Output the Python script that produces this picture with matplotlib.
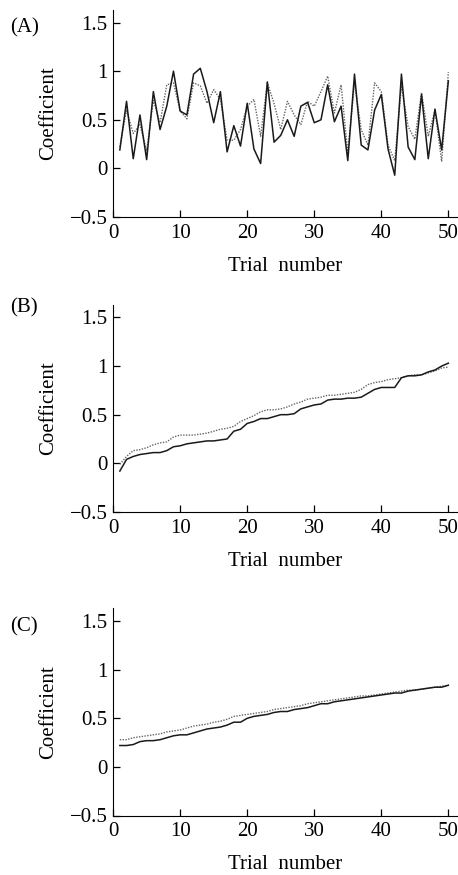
import numpy as np
import matplotlib
matplotlib.use('Agg')
import matplotlib.pyplot as plt

plt.rcParams['font.family'] = ['Liberation Serif', 'DejaVu Serif']
plt.rcParams['font.size'] = 15

trials = np.arange(1, 51)

# (A) coefficients per trial
a_solid = [0.19, 0.69, 0.10, 0.55, 0.09, 0.79, 0.40, 0.64, 1.00, 0.59,
           0.55, 0.97, 1.03, 0.79, 0.47, 0.79, 0.17, 0.44, 0.23, 0.67,
           0.20, 0.05, 0.89, 0.27, 0.34, 0.50, 0.33, 0.64, 0.68, 0.47,
           0.50, 0.86, 0.48, 0.64, 0.08, 0.97, 0.24, 0.19, 0.60, 0.76,
           0.20, -0.07, 0.97, 0.22, 0.09, 0.76, 0.10, 0.61, 0.19, 0.90]
a_dotted = [0.22, 0.60, 0.36, 0.45, 0.18, 0.70, 0.47, 0.86, 0.88, 0.59,
            0.51, 0.88, 0.85, 0.67, 0.81, 0.71, 0.29, 0.29, 0.40, 0.64,
            0.71, 0.33, 0.88, 0.67, 0.40, 0.69, 0.55, 0.45, 0.69, 0.64,
            0.79, 0.95, 0.57, 0.86, 0.16, 0.88, 0.40, 0.24, 0.88, 0.79,
            0.24, 0.08, 0.85, 0.43, 0.30, 0.78, 0.33, 0.60, 0.07, 0.99]

# (B)
b_solid = [-0.08, 0.04, 0.07, 0.09, 0.10, 0.11, 0.11, 0.13, 0.17, 0.18,
           0.20, 0.21, 0.22, 0.23, 0.23, 0.24, 0.25, 0.33, 0.35, 0.41,
           0.43, 0.46, 0.46, 0.48, 0.50, 0.50, 0.51, 0.56, 0.58, 0.60,
           0.61, 0.65, 0.66, 0.66, 0.67, 0.67, 0.68, 0.72, 0.76, 0.78,
           0.78, 0.78, 0.88, 0.90, 0.90, 0.91, 0.94, 0.96, 1.00, 1.03]
b_dotted = [-0.01, 0.07, 0.13, 0.14, 0.16, 0.19, 0.21, 0.22, 0.27, 0.29,
            0.29, 0.29, 0.30, 0.31, 0.33, 0.35, 0.36, 0.38, 0.43, 0.46,
            0.49, 0.53, 0.55, 0.55, 0.56, 0.58, 0.61, 0.63, 0.66, 0.67,
            0.68, 0.70, 0.70, 0.71, 0.72, 0.73, 0.76, 0.81, 0.83, 0.84,
            0.86, 0.87, 0.88, 0.90, 0.91, 0.91, 0.93, 0.95, 0.98, 0.99]

# (C)
c_solid = [0.22, 0.22, 0.23, 0.26, 0.27, 0.27, 0.28, 0.30, 0.32, 0.33,
           0.33, 0.35, 0.37, 0.39, 0.40, 0.41, 0.43, 0.46, 0.46, 0.50,
           0.52, 0.53, 0.54, 0.56, 0.57, 0.57, 0.59, 0.60, 0.61, 0.63,
           0.65, 0.65, 0.67, 0.68, 0.69, 0.70, 0.71, 0.72, 0.73, 0.74,
           0.75, 0.76, 0.76, 0.78, 0.79, 0.80, 0.81, 0.82, 0.82, 0.84]
c_dotted = [0.28, 0.28, 0.30, 0.31, 0.32, 0.33, 0.34, 0.36, 0.37, 0.38,
            0.40, 0.42, 0.43, 0.44, 0.46, 0.47, 0.49, 0.52, 0.53, 0.54,
            0.55, 0.56, 0.57, 0.59, 0.60, 0.61, 0.62, 0.63, 0.65, 0.66,
            0.67, 0.68, 0.69, 0.70, 0.71, 0.72, 0.73, 0.73, 0.74, 0.75,
            0.76, 0.77, 0.78, 0.79, 0.79, 0.80, 0.81, 0.82, 0.83, 0.84]

panels = [('(A)', a_solid, a_dotted),
          ('(B)', b_solid, b_dotted),
          ('(C)', c_solid, c_dotted)]
yticks = [-0.5, 0, 0.5, 1, 1.5]
ytick_labels = ['\u22120.5', '0', '0.5', '1', '1.5']
xticks = [0, 10, 20, 30, 40, 50]

fig = plt.figure(figsize=(4.58, 8.75), dpi=100)
bottoms = [0.752, 0.415, 0.068]  # panel bottoms in figure coords
label_y = [28, 308, 627]  # px from top

for (name, solid, dotted), bot, ly in zip(panels, bottoms, label_y):
    ax = fig.add_axes([0.247, bot, 0.751, 0.2366])
    ax.plot(trials, dotted, color='0.4', lw=1.0, linestyle=(0, (1, 1)))
    ax.plot(trials, solid, color='0.1', lw=1.1)
    ax.set_xlim(0, 51.3)
    ax.set_ylim(-0.5, 1.63)
    ax.set_xticks(xticks)
    ax.set_yticks(yticks)
    ax.set_yticklabels(ytick_labels)
    for s in ['top', 'right']:
        ax.spines[s].set_visible(False)
    ax.tick_params(direction='in', length=5, width=0.9)
    ax.tick_params(axis='x', pad=5)
    ax.tick_params(axis='y', pad=4)
    ax.set_xlabel('Trial  number', labelpad=10)
    ax.set_ylabel('Coefficient', labelpad=8)
    fig.text(0.022, 1 - ly / 875, name, va='center', ha='left')

fig.savefig('out.png', dpi=100)
